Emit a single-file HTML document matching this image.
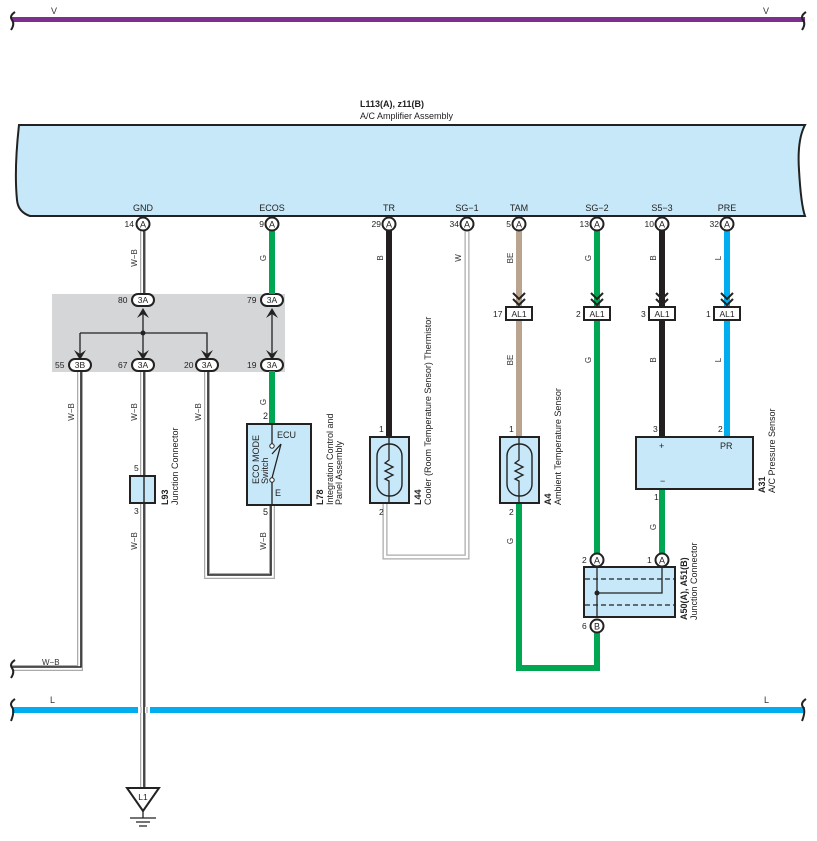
<!DOCTYPE html>
<html><head><meta charset="utf-8"><style>
html,body{margin:0;padding:0;background:#fff}
svg{display:block;font-family:"Liberation Sans",sans-serif}
</style></head><body>
<svg width="817" height="841" viewBox="0 0 817 841" xmlns="http://www.w3.org/2000/svg">
<defs>
<g id="pinA"><circle r="6.5" fill="#fff" stroke="#222" stroke-width="2"/><text y="3.5" font-size="9" text-anchor="middle" fill="#222">A</text></g>
</defs>
<!-- top purple bus -->
<rect x="12" y="17" width="793" height="5" fill="#7d2f8f"/>
<path d="M15 12 Q9 16 12 20 Q15 24 11 30" fill="none" stroke="#222" stroke-width="2"/>
<path d="M806 12 Q800 16 803 20 Q806 24 802 30" fill="none" stroke="#222" stroke-width="2"/>
<text x="51" y="14" font-size="9" fill="#333">V</text>
<text x="763" y="14" font-size="9" fill="#333">V</text>

<!-- assembly -->
<text x="360" y="107" font-size="9" font-weight="bold" fill="#222">L113(A), z11(B)</text>
<text x="360" y="119" font-size="9" fill="#222">A/C Amplifier Assembly</text>
<path d="M19 125 L805 125 Q797 140 799 170 Q801 205 805 216 L30 216 Q18 212 17 200 Q14 170 19 125 Z" fill="#c7e8f8" stroke="#222" stroke-width="2"/>
<g font-size="9" fill="#222" text-anchor="middle">
<text x="143" y="211">GND</text><text x="272" y="211">ECOS</text><text x="389" y="211">TR</text><text x="467" y="211">SG−1</text><text x="519" y="211">TAM</text><text x="597" y="211">SG−2</text><text x="662" y="211">S5−3</text><text x="727" y="211">PRE</text>
</g>

<!-- grey box -->
<rect x="52" y="294" width="233" height="78" fill="#d5d6d8"/>

<!-- W-B wires (grey double + black) -->
<g fill="none">
<path d="M143 230 V300 M143 365 V788 M80 365 V668 H12 M207 365 V576 H272 V505" stroke="#aaa" stroke-width="6"/>
<path d="M143 230 V300 M143 365 V788 M80 365 V668 H12 M207 365 V576 H272 V505" stroke="#fff" stroke-width="3.5"/>
<path d="M144 230 V300 M144 365 V788 M81 365 V667 H12 M208 365 V575 H271 V505" stroke="#222" stroke-width="1.6"/>
</g>
<path d="M15 660 Q9 664 12 668 Q15 672 11 678" fill="none" stroke="#222" stroke-width="2"/>
<text x="42" y="665" font-size="8" fill="#333">W−B</text>

<!-- grey box internal -->
<path d="M143 310 V358 M80 333 H207 V358 M80 333 V358 M272 310 V358" stroke="#222" stroke-width="1.3" fill="none"/>
<circle cx="143" cy="333" r="2.5" fill="#222"/>
<g fill="#222">
<path d="M137 318 L143 308 L149 318 L143 314 Z"/><path d="M266 318 L272 308 L278 318 L272 314 Z"/>
<path d="M74 350 L80 360 L86 350 L80 354 Z"/><path d="M137 350 L143 360 L149 350 L143 354 Z"/><path d="M201 350 L207 360 L213 350 L207 354 Z"/><path d="M266 350 L272 360 L278 350 L272 354 Z"/>
</g>
<g font-size="8.5" fill="#222">
<rect x="132" y="294" width="22" height="12" rx="6" fill="#fff" stroke="#222" stroke-width="2"/><text x="143" y="303" text-anchor="middle">3A</text><text x="118" y="303">80</text>
<rect x="261" y="294" width="22" height="12" rx="6" fill="#fff" stroke="#222" stroke-width="2"/><text x="272" y="303" text-anchor="middle">3A</text><text x="247" y="303">79</text>
<rect x="69" y="359" width="22" height="12" rx="6" fill="#fff" stroke="#222" stroke-width="2"/><text x="80" y="368" text-anchor="middle">3B</text><text x="55" y="368">55</text>
<rect x="132" y="359" width="22" height="12" rx="6" fill="#fff" stroke="#222" stroke-width="2"/><text x="143" y="368" text-anchor="middle">3A</text><text x="118" y="368">67</text>
<rect x="196" y="359" width="22" height="12" rx="6" fill="#fff" stroke="#222" stroke-width="2"/><text x="207" y="368" text-anchor="middle">3A</text><text x="184" y="368">20</text>
<rect x="261" y="359" width="22" height="12" rx="6" fill="#fff" stroke="#222" stroke-width="2"/><text x="272" y="368" text-anchor="middle">3A</text><text x="247" y="368">19</text>
</g>

<!-- colored wires -->
<g fill="none" stroke-linejoin="miter">
<path d="M272 230 V294 M272 371 V424" stroke="#00a651" stroke-width="6"/>
<path d="M389 230 V437" stroke="#231f20" stroke-width="6"/>
<path d="M467 230 V557 H385 V503" stroke="#aaa" stroke-width="5"/>
<path d="M467 230 V557 H385 V503" stroke="#fff" stroke-width="2.5"/>
<path d="M519 230 V437" stroke="#b8a48f" stroke-width="6"/>
<path d="M519 503 V668 H597 V626" stroke="#00a651" stroke-width="6"/>
<path d="M597 230 V560" stroke="#00a651" stroke-width="6"/>
<path d="M662 230 V437" stroke="#231f20" stroke-width="6"/>
<path d="M662 489 V560" stroke="#00a651" stroke-width="6"/>
<path d="M727 230 V437" stroke="#00aeef" stroke-width="6"/>
</g>

<!-- top pins -->
<use href="#pinA" x="143" y="224"/><use href="#pinA" x="272" y="224"/><use href="#pinA" x="389" y="224"/><use href="#pinA" x="467" y="224"/><use href="#pinA" x="519" y="224"/><use href="#pinA" x="597" y="224"/><use href="#pinA" x="662" y="224"/><use href="#pinA" x="727" y="224"/>
<g font-size="8.5" fill="#222" text-anchor="end">
<text x="134" y="227">14</text><text x="264" y="227">9</text><text x="381" y="227">29</text><text x="459" y="227">34</text><text x="511" y="227">5</text><text x="589" y="227">13</text><text x="654" y="227">10</text><text x="719" y="227">32</text>
</g>

<!-- wire labels (rotated) -->
<g font-size="8" fill="#333" text-anchor="middle">
<text transform="translate(137,258) rotate(-90)">W−B</text>
<text transform="translate(266,258) rotate(-90)">G</text>
<text transform="translate(383,258) rotate(-90)">B</text>
<text transform="translate(461,258) rotate(-90)">W</text>
<text transform="translate(513,258) rotate(-90)">BE</text>
<text transform="translate(591,258) rotate(-90)">G</text>
<text transform="translate(656,258) rotate(-90)">B</text>
<text transform="translate(721,258) rotate(-90)">L</text>
<text transform="translate(513,360) rotate(-90)">BE</text>
<text transform="translate(591,360) rotate(-90)">G</text>
<text transform="translate(656,360) rotate(-90)">B</text>
<text transform="translate(721,360) rotate(-90)">L</text>
<text transform="translate(74,412) rotate(-90)">W−B</text>
<text transform="translate(137,412) rotate(-90)">W−B</text>
<text transform="translate(201,412) rotate(-90)">W−B</text>
<text transform="translate(266,402) rotate(-90)">G</text>
<text transform="translate(137,541) rotate(-90)">W−B</text>
<text transform="translate(266,541) rotate(-90)">W−B</text>
<text transform="translate(513,541) rotate(-90)">G</text>
<text transform="translate(656,527) rotate(-90)">G</text>
</g>

<!-- AL1 connectors -->
<g fill="none" stroke="#222" stroke-width="2">
<path d="M513 293 L519 299 L525 293 M513 299 L519 305 L525 299"/>
<path d="M591 293 L597 299 L603 293 M591 299 L597 305 L603 299"/>
<path d="M656 293 L662 299 L668 293 M656 299 L662 305 L668 299"/>
<path d="M721 293 L727 299 L733 293 M721 299 L727 305 L733 299"/>
</g>
<g font-size="8.5" fill="#222">
<rect x="506" y="307" width="26" height="13" fill="#fff" stroke="#222" stroke-width="2"/><text x="519" y="317" text-anchor="middle">AL1</text><text x="493" y="317">17</text>
<rect x="584" y="307" width="26" height="13" fill="#fff" stroke="#222" stroke-width="2"/><text x="597" y="317" text-anchor="middle">AL1</text><text x="576" y="317">2</text>
<rect x="649" y="307" width="26" height="13" fill="#fff" stroke="#222" stroke-width="2"/><text x="662" y="317" text-anchor="middle">AL1</text><text x="641" y="317">3</text>
<rect x="714" y="307" width="26" height="13" fill="#fff" stroke="#222" stroke-width="2"/><text x="727" y="317" text-anchor="middle">AL1</text><text x="706" y="317">1</text>
</g>

<!-- L93 -->
<rect x="130" y="476" width="25" height="27" fill="#c7e8f8" stroke="#222" stroke-width="2"/>
<path d="M144 476 V503" stroke="#222" stroke-width="1.4"/>
<g font-size="8.5" fill="#222"><text x="134" y="471">5</text><text x="134" y="514">3</text></g>
<text transform="translate(168,505) rotate(-90)" font-size="9" font-weight="bold" fill="#222">L93</text>
<text transform="translate(178,505) rotate(-90)" font-size="9" fill="#222">Junction Connector</text>

<!-- ECO box -->
<rect x="247" y="424" width="64" height="81" fill="#c7e8f8" stroke="#222" stroke-width="2"/>
<path d="M272 424 V446 M272 482 V505 M272 454 L281 444" stroke="#222" stroke-width="1.3" fill="none"/>
<circle cx="272" cy="446" r="2.2" fill="#fff" stroke="#222"/><circle cx="272" cy="480" r="2.2" fill="#fff" stroke="#222"/>
<path d="M272 478 L281 444" stroke="#222" stroke-width="1.3"/>
<g font-size="9" fill="#222"><text x="277" y="438">ECU</text><text x="275" y="496">E</text><text x="263" y="419">2</text><text x="263" y="515">5</text></g>
<text transform="translate(259,484) rotate(-90)" font-size="9" fill="#222">ECO MODE</text>
<text transform="translate(268,484) rotate(-90)" font-size="9" fill="#222">Switch</text>
<text transform="translate(323,505) rotate(-90)" font-size="9" font-weight="bold" fill="#222">L78</text>
<text transform="translate(333,505) rotate(-90)" font-size="9" fill="#222">Integration Control and</text>
<text transform="translate(342,505) rotate(-90)" font-size="9" fill="#222">Panel Assembly</text>

<!-- L44 -->
<rect x="370" y="437" width="39" height="66" fill="#c7e8f8" stroke="#222" stroke-width="2"/>
<rect x="377" y="444" width="25" height="52" rx="12" fill="none" stroke="#222" stroke-width="1.4"/>
<path d="M389 437 V460 L385 463 L393 467 L385 471 L393 475 L385 479 L389 481 V503" fill="none" stroke="#222" stroke-width="1.3"/>
<g font-size="8.5" fill="#222"><text x="379" y="432">1</text><text x="379" y="515">2</text></g>
<text transform="translate(421,505) rotate(-90)" font-size="9" font-weight="bold" fill="#222">L44</text>
<text transform="translate(431,505) rotate(-90)" font-size="9" fill="#222">Cooler (Room Temperature Sensor) Thermistor</text>

<!-- A4 -->
<rect x="500" y="437" width="39" height="66" fill="#c7e8f8" stroke="#222" stroke-width="2"/>
<rect x="507" y="444" width="25" height="52" rx="12" fill="none" stroke="#222" stroke-width="1.4"/>
<path d="M519 437 V460 L515 463 L523 467 L515 471 L523 475 L515 479 L519 481 V503" fill="none" stroke="#222" stroke-width="1.3"/>
<g font-size="8.5" fill="#222"><text x="509" y="432">1</text><text x="509" y="515">2</text></g>
<text transform="translate(551,505) rotate(-90)" font-size="9" font-weight="bold" fill="#222">A4</text>
<text transform="translate(561,505) rotate(-90)" font-size="9" fill="#222">Ambient Temperature Sensor</text>

<!-- A31 -->
<rect x="636" y="437" width="117" height="52" fill="#c7e8f8" stroke="#222" stroke-width="2"/>
<g font-size="9" fill="#222"><text x="659" y="449">+</text><text x="720" y="449">PR</text><text x="660" y="484">−</text>
<text x="653" y="432" font-size="8.5">3</text><text x="718" y="432" font-size="8.5">2</text><text x="654" y="500" font-size="8.5">1</text></g>
<text transform="translate(765,493) rotate(-90)" font-size="9" font-weight="bold" fill="#222">A31</text>
<text transform="translate(775,493) rotate(-90)" font-size="9" fill="#222">A/C Pressure Sensor</text>

<!-- A50/A51 -->
<rect x="584" y="567" width="91" height="50" fill="#c7e8f8" stroke="#222" stroke-width="2"/>
<path d="M585 579 H675 M585 605 H675" stroke="#222" stroke-width="1.3" stroke-dasharray="5,3"/>
<path d="M597 567 V617 M597 593 H662 V567" stroke="#222" stroke-width="1.3" fill="none"/>
<circle cx="597" cy="593" r="2.5" fill="#222"/>
<use href="#pinA" x="597" y="560"/><use href="#pinA" x="662" y="560"/>
<circle cx="597" cy="626" r="6.5" fill="#fff" stroke="#222" stroke-width="2"/><text x="597" y="629.5" font-size="9" text-anchor="middle" fill="#222">B</text>
<g font-size="8.5" fill="#222"><text x="582" y="563">2</text><text x="647" y="563">1</text><text x="582" y="629">6</text></g>
<text transform="translate(687,620) rotate(-90)" font-size="9" font-weight="bold" fill="#222">A50(A), A51(B)</text>
<text transform="translate(697,620) rotate(-90)" font-size="9" fill="#222">Junction Connector</text>

<!-- L bus -->
<rect x="12" y="707" width="793" height="6" fill="#00aeef"/>
<path d="M138 707 H150 V713 H138 Z" fill="#fff"/>
<path d="M141 707 V713" stroke="#aaa" stroke-width="1.2"/><path d="M147 707 V713" stroke="#aaa" stroke-width="1.2"/><path d="M144 707 V713" stroke="#222" stroke-width="1.6"/>
<path d="M15 699 Q9 703 12 707 Q15 711 11 721" fill="none" stroke="#222" stroke-width="2"/>
<path d="M806 699 Q800 703 803 707 Q806 711 802 721" fill="none" stroke="#222" stroke-width="2"/>
<text x="50" y="703" font-size="9" fill="#333">L</text>
<text x="764" y="703" font-size="9" fill="#333">L</text>

<!-- ground -->
<path d="M127 788 H159 L143 811 Z" fill="#fff" stroke="#222" stroke-width="2"/>
<text x="143" y="800" font-size="8.5" text-anchor="middle" fill="#222">L1</text>
<path d="M143 811 V818 M130 818 H156 M136 822 H150 M139 826 H147" stroke="#222" stroke-width="1.3"/>
</svg>
</body></html>
